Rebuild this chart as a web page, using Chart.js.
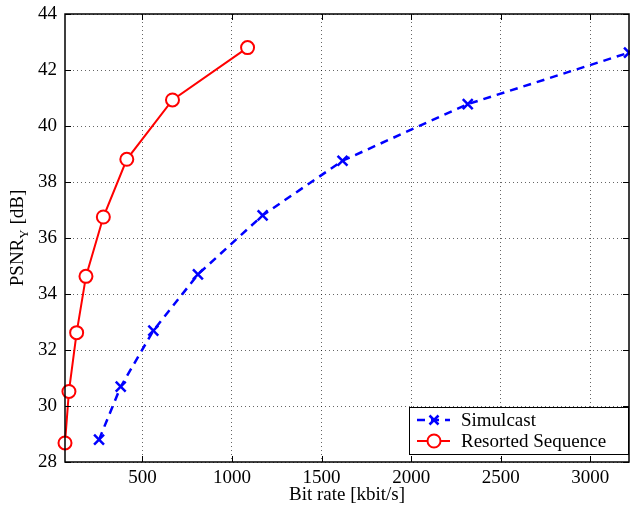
<!DOCTYPE html>
<html>
<head>
<meta charset="utf-8">
<script src="https://cdn.jsdelivr.net/npm/chart.js@4/dist/chart.umd.min.js"></script>
<style>
  html, body { margin: 0; padding: 0; background: #fff; }
  #wrap { width: 630px; height: 509px; }
</style>
</head>
<body>
<div id="wrap"><canvas id="c"></canvas></div>
<script>
// data
const simulcastRate = [258, 379, 561, 810, 1171, 1617, 2316, 3216];
const simulcastPsnr = [28.80, 30.69, 32.69, 34.70, 36.81, 38.76, 40.78, 42.62];
const resortedRate = [68, 90, 133, 185, 282, 413, 668, 1087];
const resortedPsnr = [28.68, 30.52, 32.62, 34.63, 36.75, 38.81, 40.93, 42.80];
const xTicks = [500, 1000, 1500, 2000, 2500, 3000];
const yTicks = [28, 30, 32, 34, 36, 38, 40, 42, 44];
const seriesNames = ['Simulcast', 'Resorted Sequence'];

const FONT = "'Liberation Serif', 'DejaVu Serif', serif";
const FS = 19;

function toPoints(xs, ys) {
  return xs.map((x, i) => ({ x: x, y: ys[i] }));
}

// box, inward ticks, subscripted y label and matlab style legend
const matlabDecor = {
  id: 'matlabDecor',
  afterDatasetsDraw(chart) {
    const ctx = chart.ctx;
    const a = chart.chartArea;
    const xs = chart.scales.x, ys = chart.scales.y;
    ctx.save();
    ctx.strokeStyle = '#000';
    ctx.lineWidth = 1.5;
    ctx.strokeRect(a.left, a.top, a.right - a.left, a.bottom - a.top);
    ctx.lineWidth = 1;
    const tl = 6;
    ctx.beginPath();
    xTicks.forEach(v => {
      const px = Math.round(xs.getPixelForValue(v)) + 0.5;
      ctx.moveTo(px, a.bottom); ctx.lineTo(px, a.bottom - tl);
      ctx.moveTo(px, a.top); ctx.lineTo(px, a.top + tl);
    });
    yTicks.forEach(v => {
      const py = Math.round(ys.getPixelForValue(v)) + 0.5;
      ctx.moveTo(a.left, py); ctx.lineTo(a.left + tl, py);
      ctx.moveTo(a.right, py); ctx.lineTo(a.right - tl, py);
    });
    ctx.stroke();

    // y title: PSNR_Y [dB]
    ctx.fillStyle = '#000';
    ctx.translate(17, (a.top + a.bottom) / 2);
    ctx.rotate(-Math.PI / 2);
    ctx.textBaseline = 'alphabetic';
    const p1 = 'PSNR', p3 = ' [dB]';
    ctx.font = '13px ' + FONT;
    const wSub = ctx.measureText('Y').width;
    ctx.font = FS + 'px ' + FONT;
    const w1 = ctx.measureText(p1).width, w3 = ctx.measureText(p3).width;
    let sx = -(w1 + wSub + w3) / 2;
    const base = 6;
    ctx.fillText(p1, sx, base);
    ctx.font = '13px ' + FONT;
    ctx.fillText('Y', sx + w1, base + 5);
    ctx.font = FS + 'px ' + FONT;
    ctx.fillText(p3, sx + w1 + wSub, base);
    ctx.restore();

    // legend box
    ctx.save();
    const lx = 409, ly = 407, lw = 219, lh = 47;
    ctx.fillStyle = '#fff';
    ctx.fillRect(lx, ly, lw, lh);
    ctx.strokeStyle = '#000';
    ctx.lineWidth = 1;
    ctx.strokeRect(lx + 0.5, ly + 0.5, lw, lh);
    ctx.font = FS + 'px ' + FONT;
    ctx.textBaseline = 'middle';
    chart.data.datasets.forEach((ds, i) => {
      const cy = ly + 13 + i * 21;
      ctx.strokeStyle = ds.borderColor;
      ctx.lineWidth = ds.borderWidth;
      ctx.setLineDash(ds.borderDash || []);
      ctx.beginPath();
      ctx.moveTo(lx + 8, cy); ctx.lineTo(lx + 41, cy);
      ctx.stroke();
      ctx.setLineDash([]);
      const mx = lx + 25;
      if (ds.pointStyle === 'crossRot') {
        const r = 4.5;
        ctx.beginPath();
        ctx.moveTo(mx - r, cy - r); ctx.lineTo(mx + r, cy + r);
        ctx.moveTo(mx - r, cy + r); ctx.lineTo(mx + r, cy - r);
        ctx.stroke();
      } else {
        ctx.fillStyle = '#fff';
        ctx.beginPath();
        ctx.arc(mx, cy, ds.pointRadius, 0, Math.PI * 2);
        ctx.fill(); ctx.stroke();
      }
      ctx.fillStyle = '#000';
      ctx.fillText(ds.label, lx + 52, cy + 1);
    });
    ctx.restore();
  }
};

new Chart(document.getElementById('c'), {
  type: 'line',
  data: {
    datasets: [{
      label: seriesNames[0],
      data: toPoints(simulcastRate, simulcastPsnr),
      borderColor: '#0000ff',
      borderWidth: 2.5,
      borderDash: [8, 6],
      pointStyle: 'crossRot',
      pointRadius: 7,
      pointBorderWidth: 2.5,
      pointBorderColor: '#0000ff',
      tension: 0
    }, {
      label: seriesNames[1],
      data: toPoints(resortedRate, resortedPsnr),
      borderColor: '#ff0000',
      borderWidth: 2,
      pointStyle: 'circle',
      pointRadius: 6.5,
      pointBorderWidth: 2,
      pointBorderColor: '#ff0000',
      pointBackgroundColor: '#fff',
      tension: 0
    }]
  },
  options: {
    responsive: true,
    maintainAspectRatio: false,
    animation: false,
    clip: false,
    layout: { autoPadding: false, padding: { top: 14, right: 1, left: 0, bottom: 0 } },
    plugins: {
      legend: { display: false },
      tooltip: { enabled: false }
    },
    scales: {
      x: {
        type: 'linear',
        min: 68,
        max: 3216,
        afterBuildTicks: s => { s.ticks = xTicks.map(v => ({ value: v })); },
        afterFit: s => { s.height = 47; s.paddingLeft = 0; s.paddingRight = 0; },
        ticks: { color: '#000', font: { family: FONT, size: FS }, padding: 5, maxRotation: 0, callback: v => String(v) },
        grid: { color: 'rgba(0,0,0,0.6)', drawTicks: false, lineWidth: 1 },
        border: { display: false, dash: [1, 3] },
        title: { display: true, text: 'Bit rate [kbit/s]', color: '#000', font: { family: FONT, size: FS }, padding: { top: 0, bottom: 3 } }
      },
      y: {
        type: 'linear',
        min: 28,
        max: 44,
        afterBuildTicks: s => { s.ticks = yTicks.map(v => ({ value: v })); },
        afterFit: s => { s.width = 65; s.paddingTop = 0; s.paddingBottom = 0; },
        ticks: { color: '#000', font: { family: FONT, size: FS }, padding: 8, callback: v => String(v) },
        grid: { color: 'rgba(0,0,0,0.6)', drawTicks: false, lineWidth: 1 },
        border: { display: false, dash: [1, 3] }
      }
    }
  },
  plugins: [matlabDecor]
});
</script>
</body>
</html>
